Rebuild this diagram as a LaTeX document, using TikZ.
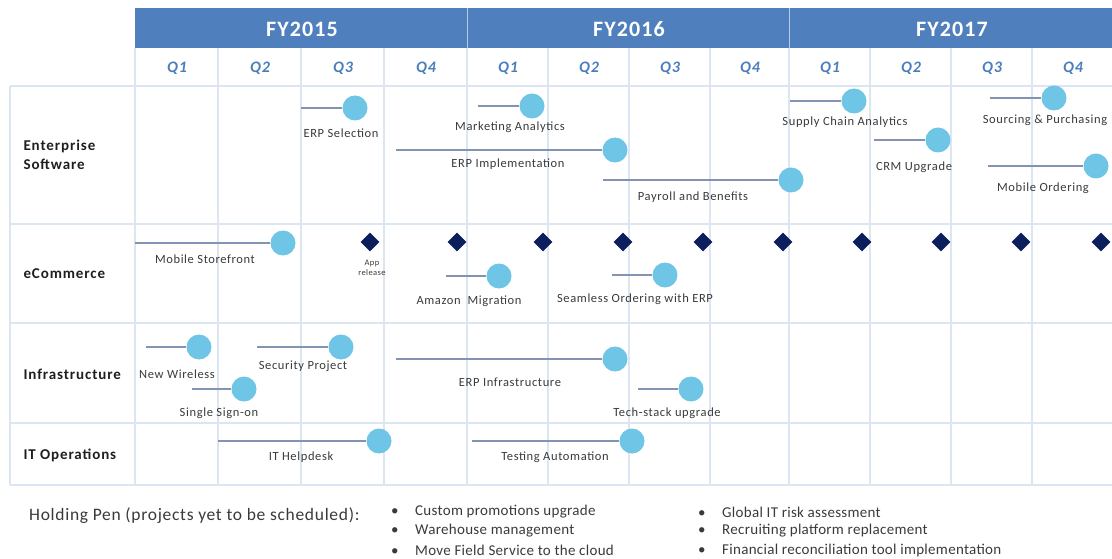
\documentclass[tikz,border=0pt]{standalone}
\usepackage{fontspec}
\setmainfont{Carlito}
\usetikzlibrary{shapes.geometric}
\definecolor{hdr}{HTML}{4F7FBD}
\definecolor{qtext}{HTML}{4A7EBB}
\definecolor{gridc}{HTML}{DCE6F3}
\definecolor{dotc}{HTML}{6EC5E6}
\definecolor{msl}{HTML}{8393B2}
\definecolor{navy}{HTML}{0B1F5C}
\definecolor{lbl}{HTML}{3A3A3A}
\newcommand\mstone[7]{%
  \coordinate (#1-s) at (#2,#4);
  \node[ms] (#1) at (#3,#4) {};
  \draw[msline] (#1-s) -- (#1);
  \node[mslabel] (#1-l) at (#5,#6) {#7};
}
\begin{document}
\begin{tikzpicture}[x=1pt,y=-1pt,
  gridline/.style={draw=gridc, line width=1.4pt},
  fy/.style={text=white, font=\fontsize{22}{24}\selectfont\bfseries\addfontfeatures{LetterSpace=5}},
  qlab/.style={text=qtext, font=\fontsize{16}{18}\selectfont\bfseries\itshape\addfontfeatures{LetterSpace=6}},
  rowlab/.style={anchor=west, align=left, text=black!88, font=\fontsize{15}{19}\selectfont\bfseries\addfontfeatures{LetterSpace=6}},
  ms/.style={circle, fill=dotc, minimum size=25pt, inner sep=0pt},
  msline/.style={draw=msl, line width=1.6pt},
  mslabel/.style={text=lbl, font=\fontsize{12.5}{14}\selectfont\addfontfeatures{LetterSpace=5}, inner sep=0pt},
  rel/.style={diamond, fill=navy, minimum size=19pt, inner sep=0pt},
  tiny/.style={text=lbl, align=center, font=\fontsize{8.5}{10.5}\selectfont\addfontfeatures{LetterSpace=5}, inner sep=0pt},
  hpitem/.style={anchor=west, text=lbl, inner sep=0pt, font=\fontsize{15}{17}\selectfont\addfontfeatures{LetterSpace=2}}
]
\useasboundingbox (0,0) rectangle (1112,559);
% header
\fill[hdr] (135,8) rectangle (1112,48);
\draw[white!60!hdr, line width=1pt] (467,8) -- (467,48);
\draw[white!60!hdr, line width=1pt] (789,8) -- (789,48);
\node[fy] (fy15) at (302,29) {FY2015};
\node[fy] (fy16) at (629,29) {FY2016};
\node[fy] (fy17) at (952,29) {FY2017};
% grid
\foreach \x in {135,218,301,384,467,548,629,710,789,870,951,1032}
  \draw[gridline] (\x,48) -- (\x,485);
\draw[gridline] (10,86) -- (10,485);
\foreach \y in {86,224,323,423,485}
  \draw[gridline] (10,\y) -- (1112,\y);
% quarters
\foreach \x/\q [count=\i] in {177/Q1,260/Q2,343/Q3,426/Q4,508/Q1,589/Q2,670/Q3,750/Q4,830/Q1,911/Q2,992/Q3,1073/Q4}
  \node[qlab] (q\i) at (\x,68) {\q};
% row labels
\node[rowlab] (r1) at (20,155) {Enterprise\\Software};
\node[rowlab] (r2) at (20,274) {eCommerce};
\node[rowlab] (r3) at (20,374) {Infrastructure};
\node[rowlab] (r4) at (20,455) {IT Operations};
% Enterprise Software
\mstone{erpsel}{301}{355}{108}{341}{133}{ERP Selection}
\mstone{mkt}{478}{532}{106}{510}{127}{Marketing Analytics}
\mstone{erpimp}{396}{615}{150}{508}{164}{ERP Implementation}
\mstone{pay}{603}{791}{180}{693}{197}{Payroll and Benefits}
\mstone{sca}{790}{854}{101}{845}{122}{Supply Chain Analytics}
\mstone{crm}{874}{938}{140}{914}{167}{CRM Upgrade}
\mstone{sp}{990}{1054}{98}{1045}{120}{Sourcing \& Purchasing}
\mstone{mo}{988}{1096}{166}{1043}{188}{Mobile Ordering}
% eCommerce
\foreach \x [count=\i] in {370,457,543,623,703,783,862,941,1021,1101}
  \node[rel] (d\i) at (\x,242) {};
\node[tiny] (app) at (372,268) {App\\release};
\mstone{mobsf}{135}{283}{243}{205}{259}{Mobile Storefront}
\mstone{amz}{446}{499}{276}{469}{301}{Amazon\ \ Migration}
\mstone{seam}{612}{665}{275}{635}{299}{Seamless Ordering with ERP}
% Infrastructure
\mstone{wire}{146}{199}{347}{177}{374}{New Wireless}
\mstone{sec}{257}{341}{347}{303}{366}{Security Project}
\mstone{sso}{192}{244}{389}{219}{413}{Single Sign-on}
\mstone{erpinf}{396}{615}{359}{510}{382}{ERP Infrastructure}
\mstone{tech}{638}{691}{389}{667}{413}{Tech-stack upgrade}
% IT Operations
\mstone{help}{218}{379}{441}{301}{457}{IT Helpdesk}
\mstone{test}{472}{632}{441}{555}{457}{Testing Automation}
% holding pen
\node[anchor=west, text=lbl, inner sep=0pt, font=\fontsize{17.5}{19}\selectfont\addfontfeatures{LetterSpace=4}] (hp) at (29,516) {Holding Pen (projects yet to be scheduled):};
\node[hpitem] (h1) at (391,512) {\makebox[24pt][l]{\textbullet}Custom promotions upgrade};
\node[hpitem] (h2) at (391,531) {\makebox[24pt][l]{\textbullet}Warehouse management};
\node[hpitem] (h3) at (391,550) {\makebox[24pt][l]{\textbullet}Move Field Service to the cloud};
\node[hpitem] (h4) at (698,512) {\makebox[24pt][l]{\textbullet}Global IT risk assessment};
\node[hpitem] (h5) at (698,531) {\makebox[24pt][l]{\textbullet}Recruiting platform replacement};
\node[hpitem] (h6) at (698,550) {\makebox[24pt][l]{\textbullet}Financial reconciliation tool implementation};
\end{tikzpicture}
\end{document}
